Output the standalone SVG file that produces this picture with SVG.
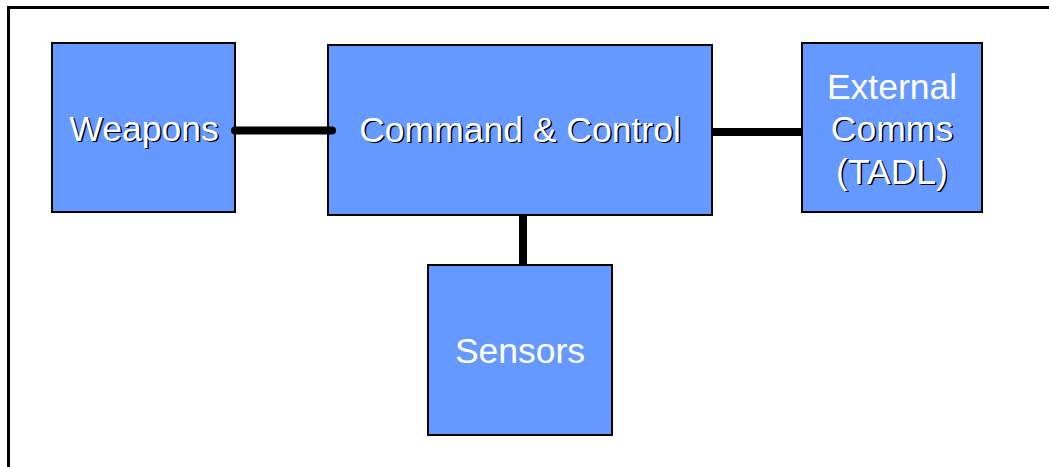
<svg xmlns="http://www.w3.org/2000/svg" width="1049" height="467" viewBox="0 0 1049 467">
  <style>
    .box { fill: #6699ff; stroke: #000; stroke-width: 2; }
    .label { font-family: "Liberation Sans", Arial, sans-serif; font-size: 35.5px; fill: #fff; text-anchor: middle; }
    .shadow { font-family: "Liberation Sans", Arial, sans-serif; font-size: 35.5px; fill: #000; text-anchor: middle; }
    .link { stroke: #000; stroke-width: 8; fill: none; }
  </style>
  <rect width="1049" height="467" fill="#fff"/>
  <!-- frame around the diagram, running past the right and bottom edges -->
  <rect x="8.5" y="7.5" width="1100" height="500" fill="none" stroke="#000" stroke-width="3"/>

  <g id="weapons">
    <rect class="box" x="52" y="43" width="183" height="169"/>
    <text class="shadow" x="145.5" y="142">Weapons</text>
    <text class="label" x="144" y="140.5">Weapons</text>
  </g>

  <g id="command-control">
    <rect class="box" x="328" y="45" width="384" height="170"/>
    <text class="shadow" x="521.5" y="143">Command &amp; Control</text>
    <text class="label" x="520" y="141.5">Command &amp; Control</text>
  </g>

  <g id="external-comms">
    <rect class="box" x="802" y="43" width="180" height="169"/>
    <text class="label" x="892" y="99">External</text>
    <text class="shadow" x="893.5" y="142">Comms</text>
    <text class="label" x="892" y="140.5">Comms</text>
    <text class="shadow" x="893.5" y="185">(TADL)</text>
    <text class="label" x="892" y="183.5">(TADL)</text>
  </g>

  <g id="sensors">
    <rect class="box" x="428" y="265" width="184" height="170"/>
    <text class="label" x="520" y="363">Sensors</text>
  </g>

  <g id="connectors">
    <line class="link" x1="235" y1="130.5" x2="332" y2="130.5" stroke-linecap="round"/>
    <line class="link" x1="712" y1="132" x2="802" y2="132"/>
    <line class="link" x1="523" y1="215" x2="523" y2="265"/>
  </g>
</svg>
